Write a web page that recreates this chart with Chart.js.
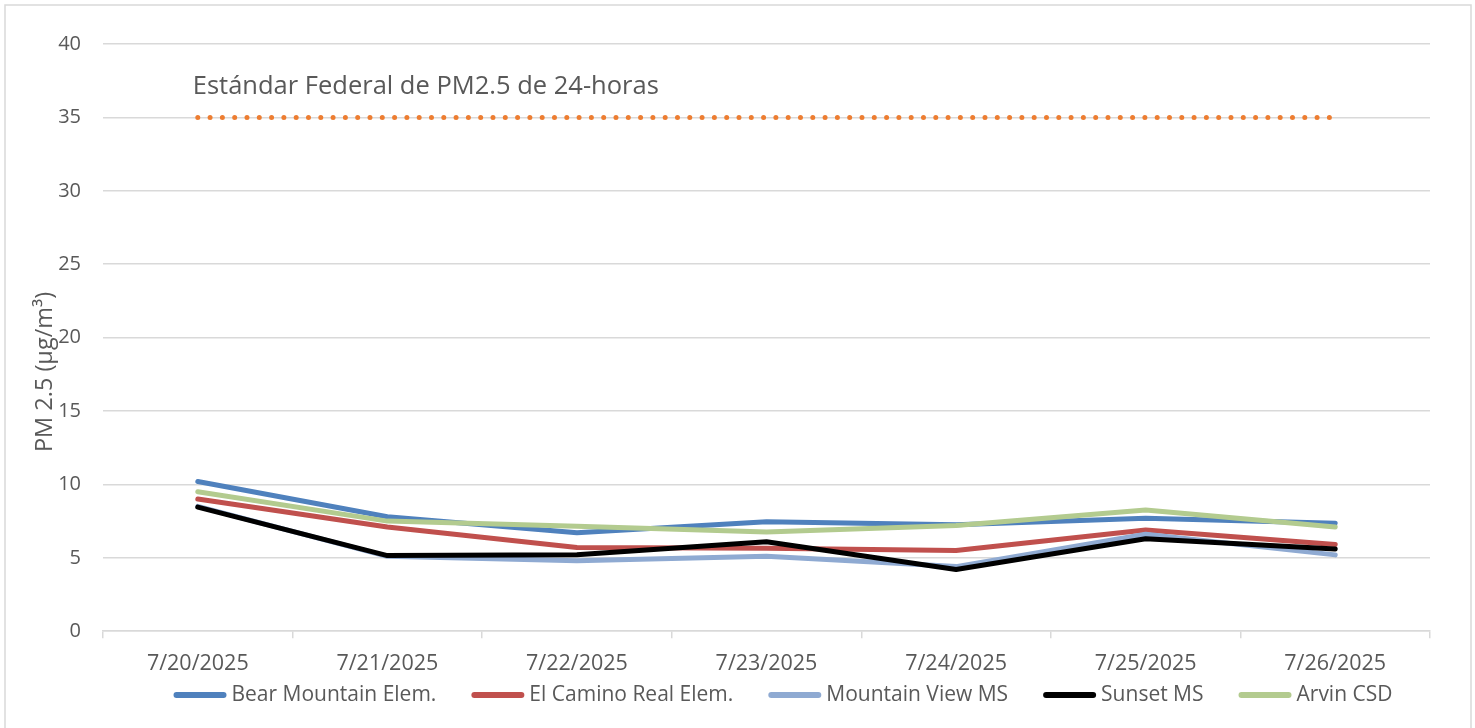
<!DOCTYPE html>
<html>
<head>
<meta charset="utf-8">
<script src="https://cdn.jsdelivr.net/npm/chart.js@4.4.1/dist/chart.umd.min.js"></script>
<style>
html,body{margin:0;padding:0;background:#fff;}
#wrap{width:1475px;height:728px;position:relative;}
</style>
</head>
<body>
<div id="wrap"><canvas id="c" width="1475" height="728"></canvas></div>
<script>
const categories = ['7/20/2025','7/21/2025','7/22/2025','7/23/2025','7/24/2025','7/25/2025','7/26/2025'];
const bearMountain = [10.2, 7.8, 6.7, 7.45, 7.25, 7.7, 7.35];
const elCamino = [9.0, 7.1, 5.7, 5.65, 5.5, 6.9, 5.9];
const mountainView = [8.5, 5.1, 4.8, 5.1, 4.4, 6.6, 5.2];
const sunset = [8.45, 5.15, 5.2, 6.1, 4.2, 6.3, 5.6];
const arvin = [9.5, 7.5, 7.15, 6.75, 7.2, 8.25, 7.1];
const federalStandard = [35, 35, 35, 35, 35, 35, 35];
const standardLabel = 'Estándar Federal de PM2.5 de 24-horas';
const yTicks = [0, 5, 10, 15, 20, 25, 30, 35, 40];
const yTitle = 'PM 2.5 (μg/m³)';

const FONT = '"Open Sans"';
const TXT = '#595959';

const framePlugin = {
  id: 'frame',
  beforeDraw(chart) {
    const ctx = chart.ctx;
    ctx.save();
    ctx.fillStyle = '#fff';
    ctx.fillRect(0, 0, chart.width, chart.height);
    ctx.strokeStyle = '#d9d9d9';
    ctx.lineWidth = 1.5;
    ctx.strokeRect(5, 5, 1466, 740);
    ctx.restore();
  },
  afterDraw(chart) {
    const ctx = chart.ctx;
    const xs = chart.scales.x, ys = chart.scales.y;
    ctx.save();
    // annotation
    ctx.fillStyle = TXT;
    ctx.font = '25.5px ' + FONT;
    ctx.textBaseline = 'middle';
    ctx.textAlign = 'left';
    ctx.fillText(standardLabel, xs.getPixelForValue(0) - 5, ys.getPixelForValue(37.1));
    // legend
    ctx.font = '21px ' + FONT;
    const items = chart.data.datasets.slice(0, 5);
    const sw = 53, gapIn = 5, gapOut = 35;
    let total = 0;
    items.forEach((d, i) => { total += sw + gapIn + ctx.measureText(d.label).width + (i < items.length - 1 ? gapOut : 0); });
    let x = 783 - total / 2;
    const ly = 695;
    items.forEach((d) => {
      ctx.strokeStyle = d.borderColor;
      ctx.lineWidth = 6;
      ctx.lineCap = 'round';
      ctx.beginPath();
      ctx.moveTo(x + 3, ly);
      ctx.lineTo(x + sw - 3, ly);
      ctx.stroke();
      x += sw + gapIn;
      ctx.fillStyle = TXT;
      ctx.textAlign = 'left';
      ctx.fillText(d.label, x, ly);
      x += ctx.measureText(d.label).width + gapOut;
    });
    // y title
    ctx.translate(45, 372);
    ctx.rotate(-Math.PI / 2);
    ctx.textAlign = 'center';
    ctx.font = '23.5px ' + FONT;
    ctx.fillStyle = TXT;
    ctx.fillText(yTitle, 0, 0);
    ctx.restore();
  }
};

const mk = (label, data, color, order) => ({
  label, data, borderColor: color, backgroundColor: color,
  borderWidth: 5, pointRadius: 0, tension: 0, order,
  borderCapStyle: 'round', borderJoinStyle: 'round'
});

new Chart(document.getElementById('c'), {
  type: 'line',
  data: {
    labels: categories,
    datasets: [
      mk('Bear Mountain Elem.', bearMountain, '#4F81BD', 6),
      mk('El Camino Real Elem.', elCamino, '#C0504D', 5),
      mk('Mountain View MS', mountainView, '#8FAAD2', 4),
      mk('Sunset MS', sunset, '#000000', 3),
      mk('Arvin CSD', arvin, '#B3CB8F', 2),
      {
        label: standardLabel, data: federalStandard,
        borderColor: '#ED7D31', backgroundColor: '#ED7D31',
        borderWidth: 5, borderDash: [0, 12.3], borderCapStyle: 'round',
        pointRadius: 0, order: 1
      }
    ]
  },
  options: {
    responsive: false,
    animation: false,
    layout: { padding: { top: 44, right: 45, bottom: 38, left: 0 } },
    plugins: {
      legend: { display: false },
      tooltip: { enabled: false }
    },
    scales: {
      x: {
        offset: true,
        grid: { offset: true, drawOnChartArea: false, drawTicks: true, tickLength: 7, color: '#d9d9d9', lineWidth: 1.5 },
        border: { display: true, color: '#d9d9d9', width: 1.5 },
        ticks: { color: TXT, font: { family: FONT, size: 21.5 }, padding: 13, maxRotation: 0 }
      },
      y: {
        min: 0, max: 40,
        afterFit(scale) { scale.width = 103; },
        afterBuildTicks(scale) { scale.ticks = yTicks.map(v => ({ value: v })); },
        grid: { color: '#d9d9d9', lineWidth: 1.5, drawTicks: false },
        border: { display: false },
        ticks: { color: TXT, font: { family: FONT, size: 20 }, padding: 22 }
      }
    }
  },
  plugins: [framePlugin]
});
</script>
</body>
</html>
